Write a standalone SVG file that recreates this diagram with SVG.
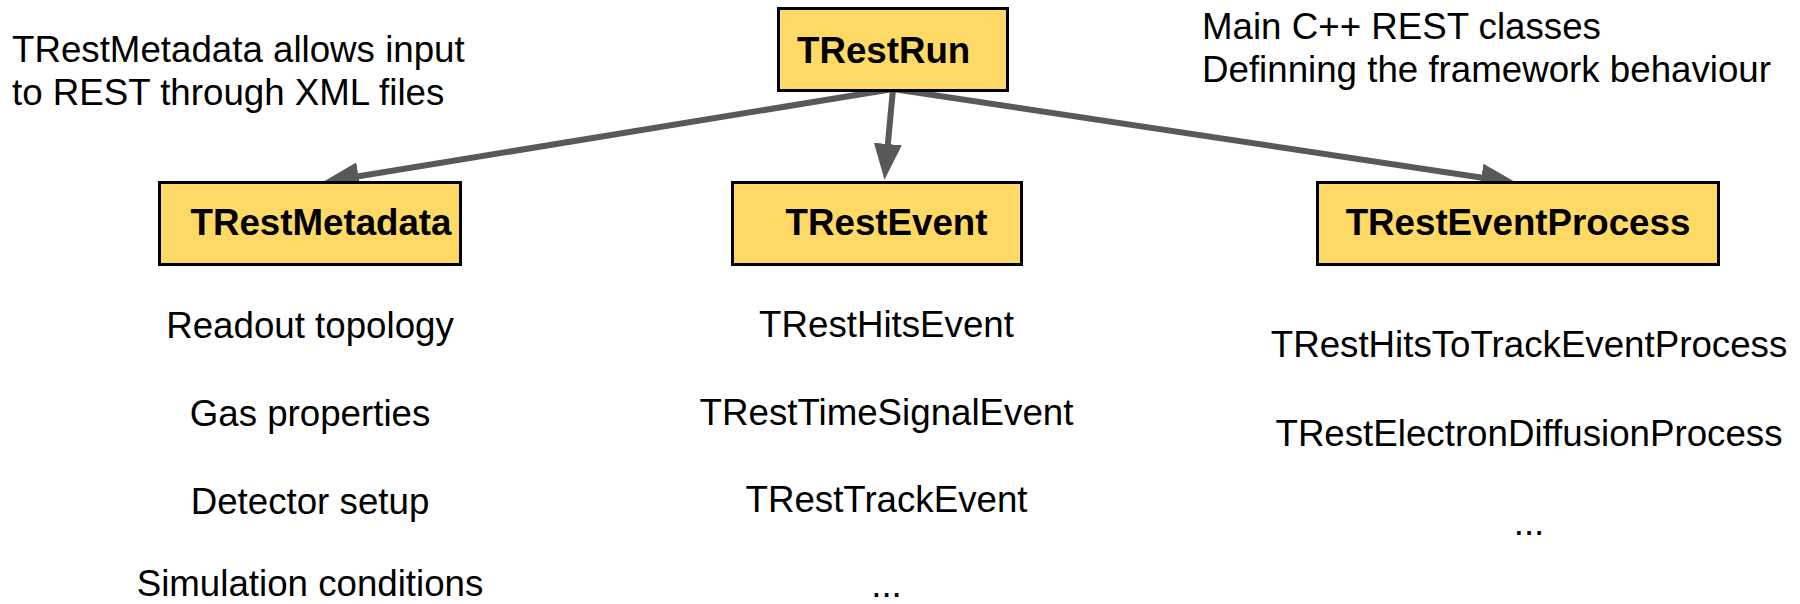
<svg xmlns="http://www.w3.org/2000/svg" width="1800" height="604" viewBox="0 0 1800 604">
  <style>
    .box { fill: #FFD966; stroke: #000000; stroke-width: 3; }
    .title { font-family: "Liberation Sans", Arial, sans-serif; font-size: 36.7px; font-weight: bold; fill: #000000; }
    .txt { font-family: "Liberation Sans", Arial, sans-serif; font-size: 36.7px; fill: #000000; }
    .mid { text-anchor: middle; }
    .link { stroke: #595959; stroke-width: 6; fill: none; marker-end: url(#head); }
  </style>
  <defs>
    <marker id="head" markerUnits="userSpaceOnUse" markerWidth="36" markerHeight="28" refX="6" refY="14" orient="auto">
      <path d="M0,0 L36,14 L0,28 Z" fill="#595959"/>
    </marker>
  </defs>

  <rect width="1800" height="604" fill="#ffffff"/>

  <!-- side notes -->
  <g id="note-left">
    <text class="txt" x="12" y="62">TRestMetadata allows input</text>
    <text class="txt" x="12" y="105">to REST through XML files</text>
  </g>
  <g id="note-right">
    <text class="txt" x="1202" y="39">Main C++ REST classes</text>
    <text class="txt" x="1202" y="82">Definning the framework behaviour</text>
  </g>

  <!-- connectors: line ends 30px short of the tip, marker carries the rest -->
  <g id="connectors">
    <line class="link" x1="893" y1="89" x2="352.6" y2="177.2"/>
    <line class="link" x1="893" y1="89" x2="887.3" y2="150"/>
    <line class="link" x1="893" y1="89" x2="1487.3" y2="178.5"/>
  </g>

  <g id="node-run">
    <rect class="box" x="778.5" y="8.5" width="229" height="82"/>
    <text class="title" x="797" y="63">TRestRun</text>
  </g>

  <g id="node-metadata">
    <rect class="box" x="159.5" y="182.5" width="301" height="82"/>
    <text class="title mid" x="321" y="235">TRestMetadata</text>
  </g>

  <g id="node-event">
    <rect class="box" x="732.5" y="182.5" width="289" height="82"/>
    <text class="title mid" x="886.5" y="235">TRestEvent</text>
  </g>

  <g id="node-process">
    <rect class="box" x="1317.5" y="182.5" width="401" height="82"/>
    <text class="title mid" x="1518" y="235">TRestEventProcess</text>
  </g>

  <!-- item lists under each class -->
  <g id="list-metadata" class="txt mid">
    <text x="310" y="338">Readout topology</text>
    <text x="310" y="426">Gas properties</text>
    <text x="310" y="514">Detector setup</text>
    <text x="310" y="596">Simulation conditions</text>
  </g>
  <g id="list-event" class="txt mid">
    <text x="886.5" y="337">TRestHitsEvent</text>
    <text x="886.5" y="425">TRestTimeSignalEvent</text>
    <text x="886.5" y="512">TRestTrackEvent</text>
    <text x="886.5" y="597">...</text>
  </g>
  <g id="list-process" class="txt mid">
    <text x="1529" y="357">TRestHitsToTrackEventProcess</text>
    <text x="1529" y="446">TRestElectronDiffusionProcess</text>
    <text x="1529" y="535">...</text>
  </g>
</svg>
